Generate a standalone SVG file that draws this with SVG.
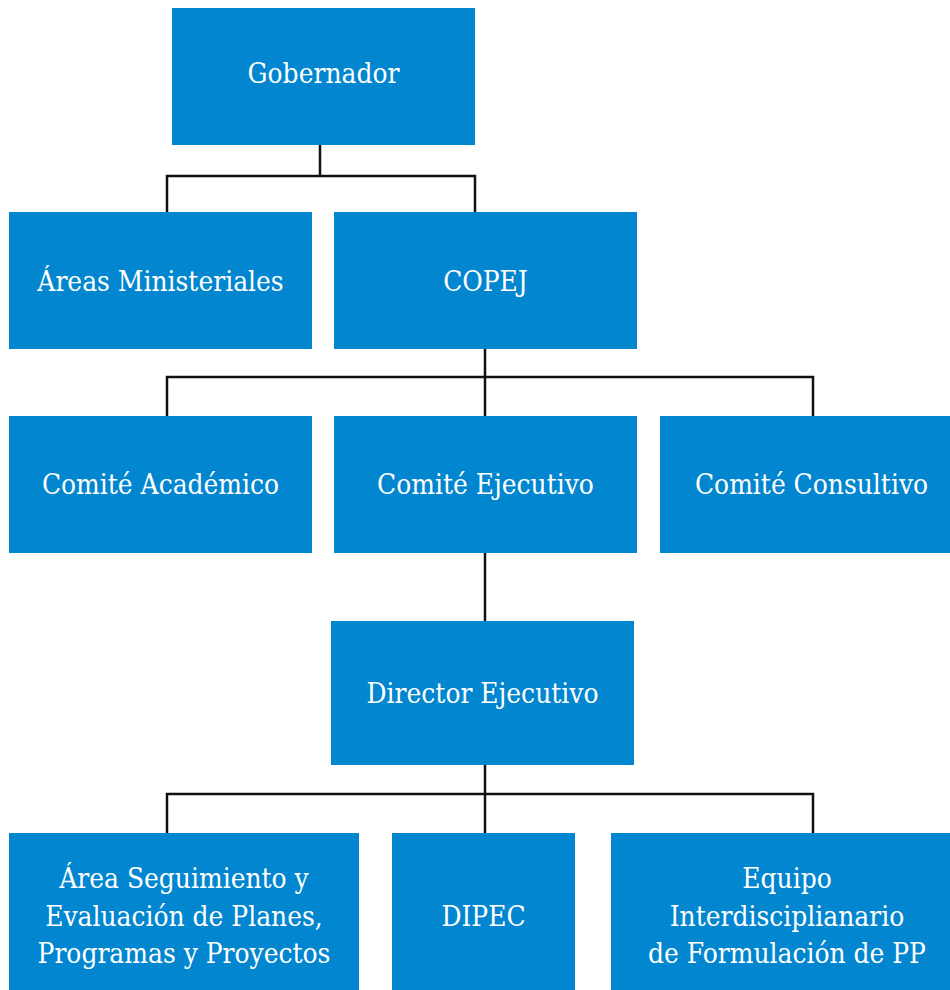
<svg xmlns="http://www.w3.org/2000/svg" width="950" height="990" viewBox="0 0 950 990">
<style>
.box{fill:#0286CF}
.t{fill:#fff;font-family:"DejaVu Serif Condensed","DejaVu Serif",serif;font-size:27.8px;text-anchor:middle}
.c{fill:none;stroke:#111;stroke-width:2.5}
</style>
<rect width="950" height="990" fill="#fff"/>
<g id="connectors">
<path class="c" d="M320,145 V176 M167,212 V176 H475 V212"/>
<path class="c" d="M485,349 V416 M167,416 V377 H813 V416"/>
<path class="c" d="M485,553 V621"/>
<path class="c" d="M485,765 V833 M167,833 V794 H813 V833"/>
</g>
<g id="gobernador"><rect class="box" x="172" y="8" width="303" height="137"/><text class="t" x="323.5" y="83">Gobernador</text></g>
<g id="areas-ministeriales"><rect class="box" x="9" y="212" width="303" height="137"/><text class="t" x="160.5" y="291">Áreas Ministeriales</text></g>
<g id="copej"><rect class="box" x="334" y="212" width="303" height="137"/><text class="t" x="485.5" y="291">COPEJ</text></g>
<g id="comite-academico"><rect class="box" x="9" y="416" width="303" height="137"/><text class="t" x="160.5" y="494">Comité Académico</text></g>
<g id="comite-ejecutivo"><rect class="box" x="334" y="416" width="303" height="137"/><text class="t" x="485.5" y="494">Comité Ejecutivo</text></g>
<g id="comite-consultivo"><rect class="box" x="660" y="416" width="303" height="137"/><text class="t" x="811.5" y="494">Comité Consultivo</text></g>
<g id="director-ejecutivo"><rect class="box" x="331" y="621" width="303" height="144"/><text class="t" x="482.5" y="703">Director Ejecutivo</text></g>
<g id="area-seguimiento"><rect class="box" x="9" y="833" width="350" height="160"/><text class="t" x="184"><tspan x="184" y="888">Área Seguimiento y</tspan><tspan x="184" y="926">Evaluación de Planes,</tspan><tspan x="184" y="963">Programas y Proyectos</tspan></text></g>
<g id="dipec"><rect class="box" x="392" y="833" width="183" height="160"/><text class="t" x="483.5" y="926">DIPEC</text></g>
<g id="equipo"><rect class="box" x="611" y="833" width="352" height="160"/><text class="t" x="787"><tspan x="787" y="888">Equipo</tspan><tspan x="787" y="926">Interdisciplianario</tspan><tspan x="787" y="963">de Formulación de PP</tspan></text></g>
</svg>
